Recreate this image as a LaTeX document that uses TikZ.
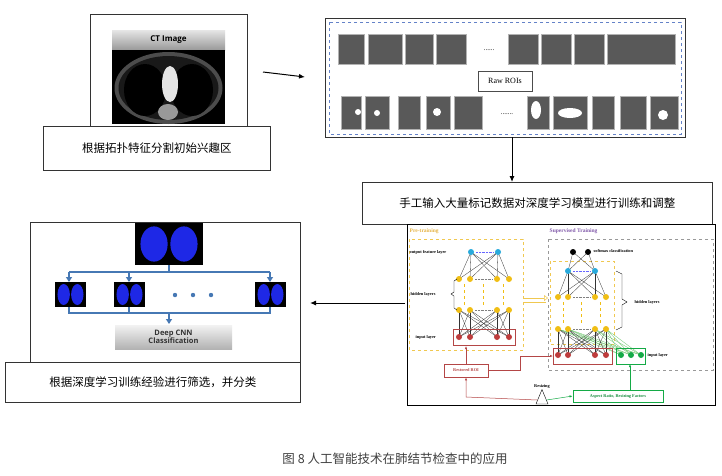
\documentclass[tikz,border=0pt]{standalone}
\usepackage{fontspec}
\setmainfont{Liberation Serif}
\newfontfamily\cjk{Noto Sans CJK SC}
\newfontfamily\sansb{Open Sans}
\usetikzlibrary{arrows.meta,shapes.geometric}
\definecolor{sblue}{RGB}{70,120,180}
\definecolor{dblue}{RGB}{100,130,200}
\definecolor{cyel}{RGB}{240,190,20}
\definecolor{lyel}{RGB}{240,200,80}
\definecolor{cblu}{RGB}{40,170,220}
\definecolor{cred}{RGB}{190,60,60}
\definecolor{dred}{RGB}{180,70,70}
\definecolor{cgrn}{RGB}{20,170,70}
\definecolor{tgrn}{RGB}{20,140,60}
\definecolor{corg}{RGB}{230,180,70}
\definecolor{cpur}{RGB}{130,90,170}
\definecolor{lungb}{RGB}{30,40,230}
\begin{document}
\begin{tikzpicture}[x=1pt,y=-1pt,
  box/.style={draw=black!80,line width=0.9pt,fill=white},
  lbl/.style={box,font=\cjk\fontsize{11.5}{13}\selectfont,inner sep=0pt},
  arr/.style={-{Latex[length=6pt,width=5pt]},line width=1pt},
  barr/.style={-{Triangle[length=5pt,width=6pt]},draw=sblue,line width=1.4pt},
  thumb/.style={fill=black!65,draw=black!30},
  yel/.style={circle,fill=cyel,inner sep=0pt,minimum size=6pt},
  blu/.style={circle,fill=cblu,inner sep=0pt,minimum size=6pt},
  redn/.style={circle,fill=cred,inner sep=0pt,minimum size=6pt},
  grn/.style={circle,fill=cgrn,inner sep=0pt,minimum size=6pt},
  blk/.style={circle,fill=black,inner sep=0pt,minimum size=6pt},
  tiny/.style={font=\bfseries\fontsize{4.3}{5}\selectfont,inner sep=0.5pt},
  edge/.style={draw=black!80,line width=0.3pt}]
\useasboundingbox (0,0) rectangle (722,475);
\fill[white] (0,0) rectangle (722,475);
% ---- CT box
\node[box,minimum width=157pt,minimum height=112pt,anchor=north west] (ct) at (90,14) {};
\shade[top color=black!10,bottom color=black!40] (112,30) rectangle (225,50);
\node[font=\sansb\bfseries\fontsize{8}{9}\selectfont] (cttxt) at (168.5,40) {CT Image};
\fill[black] (112,50) rectangle (225,124);
\fill[black!70] (168.5,88) ellipse (54 and 36);
\fill[black!90] (168.5,88) ellipse (50 and 32);
\fill[black] (145,90) ellipse (21 and 26);
\fill[black] (192,90) ellipse (21 and 26);
\fill[white!90!black] (170,84) ellipse (8 and 18);
\fill[black!40] (168,112) ellipse (10 and 8);
\node[lbl,minimum width=227pt,minimum height=44pt,anchor=north west] (l1) at (43,126) {根据拓扑特征分割初始兴趣区};
% ---- ROI box
\node[box,minimum width=360pt,minimum height=119pt,anchor=north west] (roi) at (325,18) {};
\draw[dashed,draw=dblue,line width=0.4pt] (329,22) rectangle (681,134);
\foreach \x/\w in {338/26,368/34,405/28,436/30,508/30,541/30,574/30,607/68}{\fill[thumb] (\x,34) rectangle ++(\w,30);}
\node[font=\fontsize{7}{8}\selectfont] (d1) at (489,50) {......};
\foreach \x/\w in {341/20,365/24,398/22,426/24,454/28,527/22,553/34,592/22,620/26,650/28}{\fill[thumb] (\x,96) rectangle ++(\w,33);}
\fill[white] (358,112) circle (3); \fill[white] (377,113) circle (3); \fill[white] (437,112) circle (4); \fill[white] (570,113) ellipse (12 and 5);\fill[white] (536,110) ellipse (5 and 9);\fill[white] (663,115) circle (5);
\node[font=\fontsize{7}{8}\selectfont] (d2) at (507,114) {.......};
\node[draw=black!70,fill=white,font=\fontsize{8}{9}\selectfont,minimum width=54pt,minimum height=20pt] (raw) at (505,81) {Raw ROIs};
\draw[arr] (263,72) -- (305,77);
\node[lbl,minimum width=350pt,minimum height=42pt,anchor=north west] (l2) at (362,182) {手工输入大量标记数据对深度学习模型进行训练和调整};
\draw[arr] (512,137) -- (l2.north -| 512,0);
% ---- left result panel
\node[box,minimum width=270pt,minimum height=140pt,anchor=north west] (res) at (30,222) {};
\newcommand{\lung}[4]{\fill[black] (#1,#2) rectangle ++(#3,#4);
  \fill[lungb] (#1+0.28*#3,#2+0.5*#4) ellipse (0.2*#3 and 0.42*#4);
  \fill[lungb] (#1+0.72*#3,#2+0.5*#4) ellipse (0.2*#3 and 0.42*#4);}
\lung{135}{223}{68}{42}
\lung{55}{282}{31}{25}\lung{114}{282}{31}{25}\lung{255}{282}{31}{25}
\foreach \x in {175,193,211}{\fill[sblue] (\x,295) circle (2.2);}
\draw[draw=sblue,line width=1.4pt] (169,265) -- (169,272) (69,272) -- (270,272) (69,307) -- (69,313) -- (270,313) -- (270,307) (129,307) -- (129,313);
\foreach \x in {69,129,270}{\draw[barr] (\x,272) -- (\x,282);}
\draw[barr] (169,313) -- (169,324);
\shade[top color=black!5,bottom color=black!30] (115,325) rectangle (232,349);
\node[font=\sansb\bfseries\fontsize{7.5}{8.5}\selectfont,align=center,text=black!80] (cnn) at (173.5,337) {Deep CNN\\Classification};
\node[lbl,minimum width=295pt,minimum height=40pt,anchor=north west] (l3) at (5,362) {根据深度学习训练经验进行筛选，并分类};
% ---- network panel
\node[draw=black,line width=1.2pt,minimum width=308pt,minimum height=181pt,anchor=north west] (net) at (407,224) {};
\draw[arr] (405,303) -- (310,303);
\draw[dashed,draw=lyel,line width=0.5pt] (409,239) rectangle (523,350);
\draw[dashed,draw=black!40,line width=0.5pt] (548,239) rectangle (713,370);
\draw[dashed,draw=lyel,line width=0.5pt] (550,261) rectangle (614,344);
\node[text=corg,anchor=west,font=\bfseries\fontsize{5.5}{6}\selectfont,inner sep=0.5pt] (pt) at (409,231) {Pre-training};
\node[text=cpur,anchor=west,font=\bfseries\fontsize{5.5}{6}\selectfont,inner sep=0.5pt] (st) at (549,231) {Supervised Training};
% left net
\foreach \i/\x in {1/459,2/470,3/497,4/509}{\coordinate (lh\i) at (\x,279);\coordinate (lb\i) at (\x,310);\coordinate (li\i) at (\x,337);}
\coordinate (lo1) at (471,252);\coordinate (lo2) at (498,252);
\foreach \a in {1,...,4}{\foreach \b in {1,2}{\draw[edge] (lh\a) -- (lo\b);}\foreach \b in {1,...,4}{\draw[edge] (li\a) -- (lb\b);}}
\foreach \x in {464.5,483.5,503}{\draw[dashed,draw=cyel,line width=0.4pt] (\x,284) -- (\x,305);}
\draw[draw=dred,line width=0.8pt] (453,329) rectangle (515,345);
\foreach \a in {1,...,4}{\node[yel] at (lh\a) {};\node[yel] at (lb\a) {};\node[redn] at (li\a) {};}
\node[blu] at (lo1) {};\node[blu] at (lo2) {};
\draw[densely dotted,draw=blue!60] (476,252) -- (493,252);
\foreach \y in {279,310}{\draw[densely dotted,draw=black!50] (475,\y) -- (492,\y);}
\node[tiny,anchor=west] (of) at (409,252) {output feature layer};
\node[tiny,anchor=west] (hl) at (410,294) {hidden layers};
\draw[line width=0.4pt] (457,279) -- (454,281) -- (454,292) -- (451,294) -- (454,296) -- (454,308) -- (457,310);
\node[tiny,anchor=west] (il) at (415,337) {input layer};
% right net
\foreach \i/\x in {1/558,2/568,3/595,4/606}{\coordinate (rh\i) at (\x,297);\coordinate (rb\i) at (\x,329);\coordinate (ri\i) at (\x,355);}
\coordinate (ro1) at (568,271);\coordinate (ro2) at (595,271);
\coordinate (rs1) at (573,252);\coordinate (rs2) at (588,252);
\foreach \i/\x in {1/621,2/631,3/641}{\coordinate (rg\i) at (\x,355);}
\foreach \a in {1,...,4}{\foreach \b in {1,2}{\draw[edge] (rh\a) -- (ro\b);}\foreach \b in {1,...,4}{\draw[edge] (ri\a) -- (rb\b);}
  \foreach \b in {1,2,3}{\draw[draw=green!60!black!60,line width=0.3pt] (rg\b) -- (rb\a);}}
\foreach \x in {563,581.5,600.5}{\draw[dashed,draw=cyel,line width=0.4pt] (\x,302) -- (\x,324);}
\foreach \a in {1,2}{\foreach \b in {1,2}{\draw[edge] (ro\a) -- (rs\b);}}
\draw[draw=dred,line width=0.8pt] (553,348) rectangle (612,364);
\draw[draw=cgrn,line width=0.8pt] (616,348) rectangle (645,364);
\foreach \a in {1,...,4}{\node[yel] at (rh\a) {};\node[yel] at (rb\a) {};\node[redn] at (ri\a) {};}
\foreach \a in {1,2,3}{\node[grn] at (rg\a) {};}
\node[blu] at (ro1) {};\node[blu] at (ro2) {};\node[blk] at (rs1) {};\node[blk] at (rs2) {};
\draw[densely dotted,draw=blue!60] (573,271) -- (590,271);
\foreach \y in {297,329}{\draw[densely dotted,draw=black!50] (573,\y) -- (590,\y);}
\node[tiny,anchor=west] (sm) at (593,251) {softmax classification};
\node[tiny,anchor=west] (hr) at (634,302) {hidden layers};
\draw[line width=0.4pt] (616,271) -- (622,274) -- (622,299) -- (627,302) -- (622,305) -- (622,327) -- (616,330);
\node[tiny,anchor=west] (ir) at (647,355) {input layer};
% connector between nets
\draw[draw=lyel,line width=0.5pt,-{Triangle[open,length=4pt,width=6pt]}] (523,298) -- (548,298);
\draw[draw=lyel,line width=0.5pt] (523,302) -- (546,302);
% bottom
\node[draw=dred,line width=0.8pt,fill=white,tiny,text=dred,minimum width=44pt,minimum height=13pt] (rr) at (466,370.5) {Restored ROI};
\node[draw=cgrn,line width=0.8pt,fill=white,tiny,text=tgrn,minimum width=90pt,minimum height=12pt] (ar) at (618,396) {Aspect Ratio, Resizing Factors};
\node[draw=black,isosceles triangle,shape border rotate=90,minimum width=12pt,minimum height=10pt,inner sep=0pt,fill=white] (tri) at (542,400) {};
\node[tiny] (rs) at (542,386) {Resizing};
\draw[draw=dred,line width=0.5pt,-{Latex[length=3pt]}] (rr.north) -- (466,346);
\draw[draw=dred,line width=0.5pt,-{Latex[length=3pt]}] (rr.east) -- (520,370.5) -- (520,356) -- (553,356);
\draw[draw=dred,line width=0.5pt,{Latex[length=3pt]}-] (rr.south) -- (466,397) -- (tri.west);
\draw[draw=cgrn,line width=0.5pt,-{Latex[length=3pt]}] (tri.east) -- (ar.west);
\draw[draw=cgrn,line width=0.5pt,-{Latex[length=3pt]}] (ar.north -| 630,0) -- (630,364);
% caption
\node[font=\cjk\fontsize{12.5}{14}\selectfont,text=black!75] (cap) at (395,459) {图 8 人工智能技术在肺结节检查中的应用};
\end{tikzpicture}
\end{document}
